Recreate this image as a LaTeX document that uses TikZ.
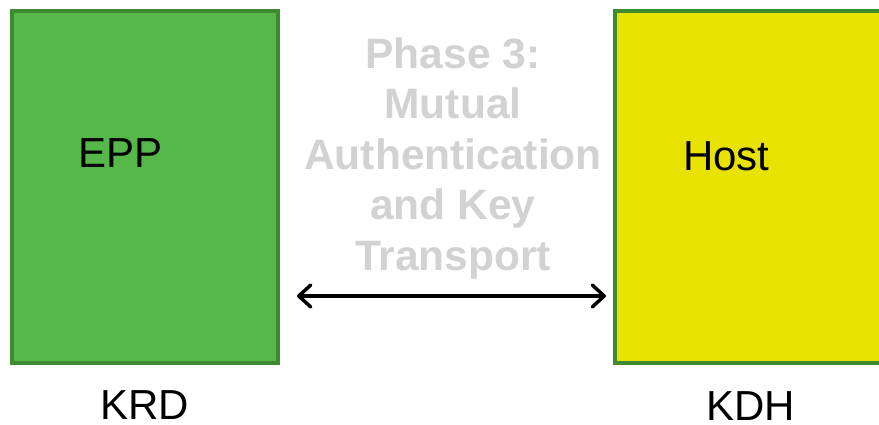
\documentclass[tikz,border=0pt]{standalone}
\usepackage{fontspec}
\setmainfont{Liberation Sans}
\usetikzlibrary{arrows.meta}
\definecolor{boxgreen}{HTML}{56B84A}
\definecolor{boxyellow}{HTML}{E8E200}
\definecolor{edgegreen}{HTML}{3D8B2E}
\definecolor{titlegray}{HTML}{D2D2D2}
\tikzset{
  box/.style={draw=edgegreen, line width=4pt, rectangle, inner sep=0pt},
  lbl/.style={font=\fontsize{42}{50}\selectfont, text=black, inner sep=0pt, anchor=base west},
  ttl/.style={font=\fontsize{42.5}{50.5}\selectfont\bfseries, text=titlegray, align=center, inner sep=0pt, anchor=base},
  tipv/.tip={Straight Barb[length=12pt,width=22pt,line cap=round,line join=round]},
  link/.style={line width=3.5pt, tipv-tipv}
}
\begin{document}
\begin{tikzpicture}[x=1pt,y=-1pt]
\clip (0,0) rectangle (879,425);
\fill[white] (0,0) rectangle (879,425);
\node[box, fill=boxgreen, minimum width=266pt, minimum height=352pt] (epp) at (145,187) {};
\node[box, fill=boxyellow, minimum width=300pt, minimum height=352pt] (host) at (765,187) {};
\node[lbl] (epplbl) at (78,168) {EPP};
\node[lbl] (hostlbl) at (683,171) {Host};
\node[lbl] (krd) at (100,419) {KRD};
\node[lbl] (kdh) at (706,420) {KDH};
\node[ttl] (phase) at (453,270) {Phase 3:\\Mutual\\Authentication\\and Key\\Transport};
\draw[link, shorten <=17pt, shorten >=7pt] ([yshift=-109pt]epp.east) -- ([yshift=-109pt]host.west);
\end{tikzpicture}
\end{document}
